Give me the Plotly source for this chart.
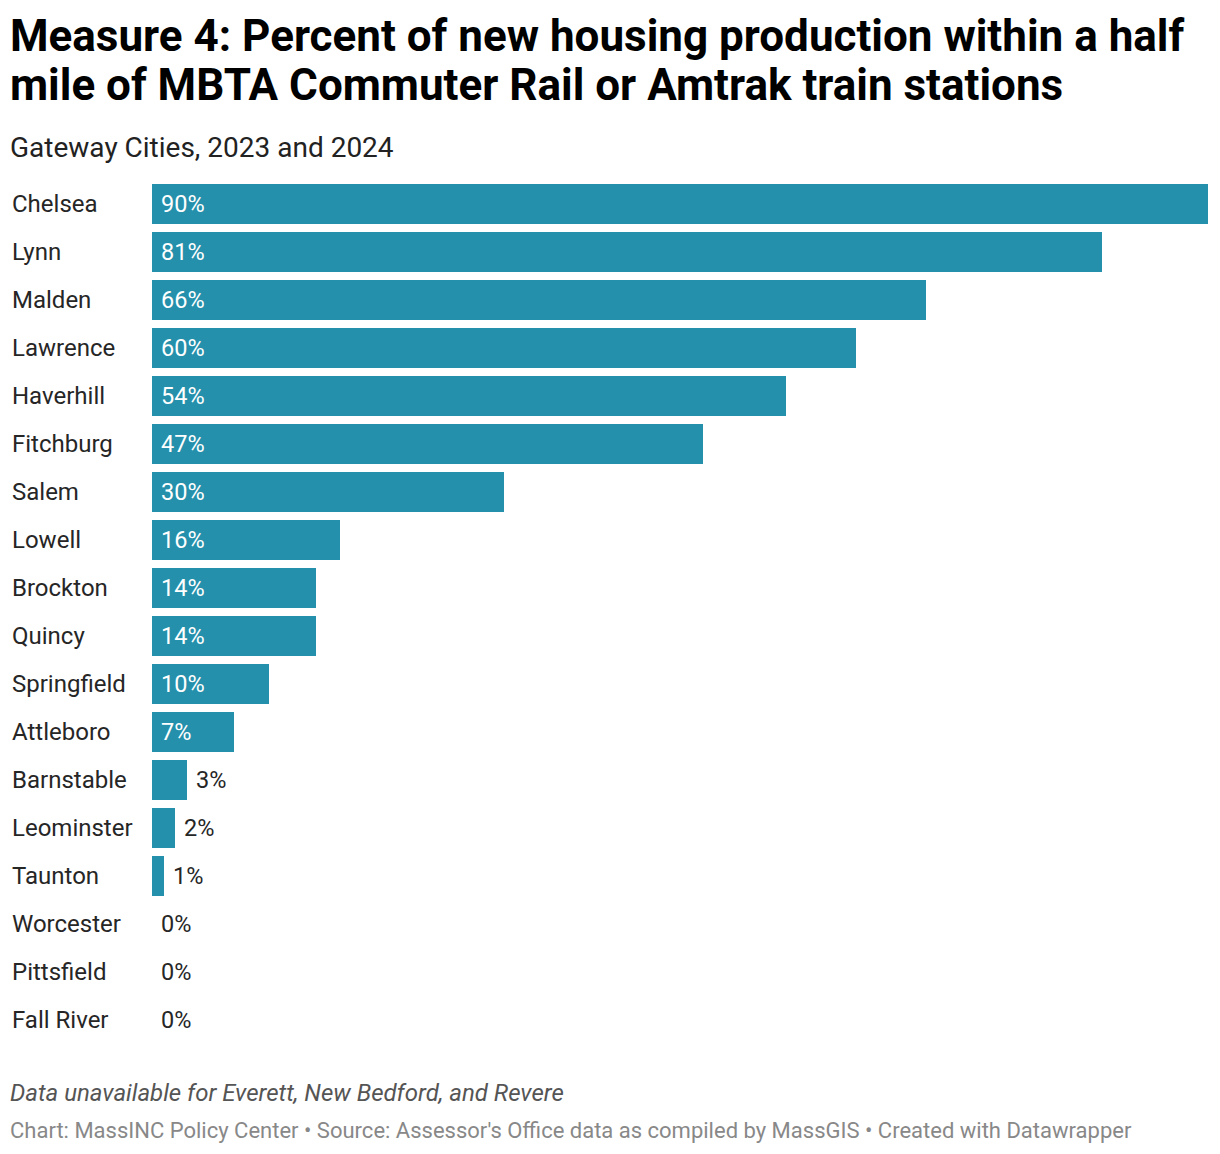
import plotly.graph_objects as go

cities = ["Chelsea", "Lynn", "Malden", "Lawrence", "Haverhill", "Fitchburg", "Salem",
          "Lowell", "Brockton", "Quincy", "Springfield", "Attleboro", "Barnstable",
          "Leominster", "Taunton", "Worcester", "Pittsfield", "Fall River"]
values = [90, 81, 66, 60, 54, 47, 30, 16, 14, 14, 10, 7, 3, 2, 1, 0, 0, 0]
labels = [f"{v}%" for v in values]

OFF = 8  # page offset of the figure in the browser
W, H = 1220 - OFF, 1154 - OFF
L, R, T, B = 152 - OFF, 12, 180 - OFF, 110
PW, PH = W - L - R, H - T - B
BAR = "#2490ab"
FONT = "Roboto"

def px_x(p):
    return (p - OFF - L) / PW

def px_y(p):
    return (H - B - (p - OFF)) / PH

ypos = list(range(len(cities)))

fig = go.Figure()
fig.add_trace(go.Bar(
    x=values, y=ypos, orientation="h", marker=dict(color=BAR, line=dict(width=0)),
    width=40 / 48, hoverinfo="skip", showlegend=False,
))

ann = []
for i, (c, v, lab) in enumerate(zip(cities, values, labels)):
    ann.append(dict(x=px_x(10), xref="paper", y=i, yref="y", text=c, showarrow=False,
                    xanchor="left", yanchor="middle", font=dict(family=FONT, size=24, color="#262626")))
    inside = v >= 5
    ann.append(dict(x=0 if inside else v, xref="x", y=i, yref="y", text=lab, showarrow=False,
                    xanchor="left", yanchor="middle", xshift=7,
                    font=dict(family=FONT, size=23.5, color="#ffffff" if inside else "#262626")))

ann += [
    dict(x=px_x(8), xref="paper", y=px_y(36), yref="paper", xanchor="left", yanchor="middle",
         text="<b>Measure 4: Percent of new housing production within a half</b>", showarrow=False,
         font=dict(family=FONT, size=44, color="#000000")),
    dict(x=px_x(8), xref="paper", y=px_y(85), yref="paper", xanchor="left", yanchor="middle",
         text="<b>mile of MBTA Commuter Rail or Amtrak train stations</b>", showarrow=False,
         font=dict(family=FONT, size=44, color="#000000")),
    dict(x=px_x(8), xref="paper", y=px_y(147), yref="paper", xanchor="left", yanchor="middle",
         text="Gateway Cities, 2023 and 2024", showarrow=False,
         font=dict(family=FONT, size=28, color="#222222")),
    dict(x=px_x(8), xref="paper", y=px_y(1093), yref="paper", xanchor="left", yanchor="middle",
         text="<i>Data unavailable for Everett, New Bedford, and Revere</i>", showarrow=False,
         font=dict(family=FONT, size=24, color="#555555")),
    dict(x=px_x(8), xref="paper", y=px_y(1130), yref="paper", xanchor="left", yanchor="middle",
         text="Chart: MassINC Policy Center • Source: Assessor's Office data as compiled by MassGIS • Created with Datawrapper",
         showarrow=False, font=dict(family=FONT, size=22, color="#888888")),
]

fig.update_layout(
    width=W, height=H, margin=dict(l=L, r=R, t=T, b=B),
    paper_bgcolor="white", plot_bgcolor="white",
    xaxis=dict(range=[0, 90], visible=False, fixedrange=True),
    yaxis=dict(range=[len(cities) - 0.5, -0.5], visible=False, fixedrange=True),
    annotations=ann, bargap=0, showlegend=False,
)

fig.write_html("out.html")
